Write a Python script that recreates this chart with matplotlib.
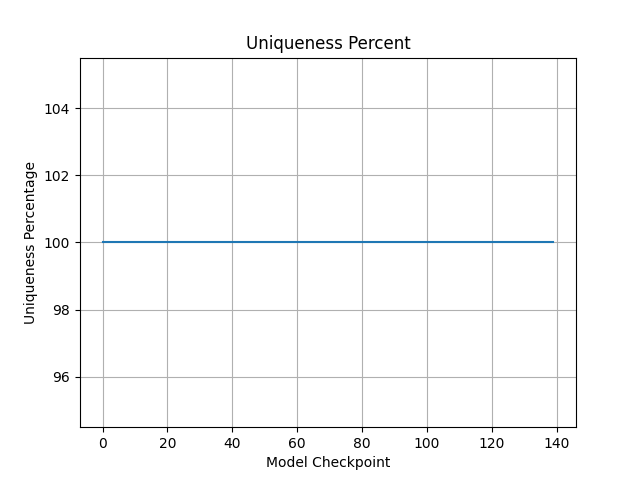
import matplotlib
matplotlib.use("Agg")
import matplotlib.pyplot as plt

# model checkpoints 0..139, uniqueness stays at 100% throughout
checkpoints = list(range(140))
uniqueness = [
    100.0, 100.0, 100.0, 100.0, 100.0, 100.0, 100.0, 100.0, 100.0, 100.0,
    100.0, 100.0, 100.0, 100.0, 100.0, 100.0, 100.0, 100.0, 100.0, 100.0,
    100.0, 100.0, 100.0, 100.0, 100.0, 100.0, 100.0, 100.0, 100.0, 100.0,
    100.0, 100.0, 100.0, 100.0, 100.0, 100.0, 100.0, 100.0, 100.0, 100.0,
    100.0, 100.0, 100.0, 100.0, 100.0, 100.0, 100.0, 100.0, 100.0, 100.0,
    100.0, 100.0, 100.0, 100.0, 100.0, 100.0, 100.0, 100.0, 100.0, 100.0,
    100.0, 100.0, 100.0, 100.0, 100.0, 100.0, 100.0, 100.0, 100.0, 100.0,
    100.0, 100.0, 100.0, 100.0, 100.0, 100.0, 100.0, 100.0, 100.0, 100.0,
    100.0, 100.0, 100.0, 100.0, 100.0, 100.0, 100.0, 100.0, 100.0, 100.0,
    100.0, 100.0, 100.0, 100.0, 100.0, 100.0, 100.0, 100.0, 100.0, 100.0,
    100.0, 100.0, 100.0, 100.0, 100.0, 100.0, 100.0, 100.0, 100.0, 100.0,
    100.0, 100.0, 100.0, 100.0, 100.0, 100.0, 100.0, 100.0, 100.0, 100.0,
    100.0, 100.0, 100.0, 100.0, 100.0, 100.0, 100.0, 100.0, 100.0, 100.0,
    100.0, 100.0, 100.0, 100.0, 100.0, 100.0, 100.0, 100.0, 100.0, 100.0,
]

plt.figure(figsize=(6.4, 4.8), dpi=100)
plt.plot(checkpoints, uniqueness)
plt.title("Uniqueness Percent")
plt.xlabel("Model Checkpoint")
plt.ylabel("Uniqueness Percentage")
plt.grid(True)
plt.savefig("out.png")
